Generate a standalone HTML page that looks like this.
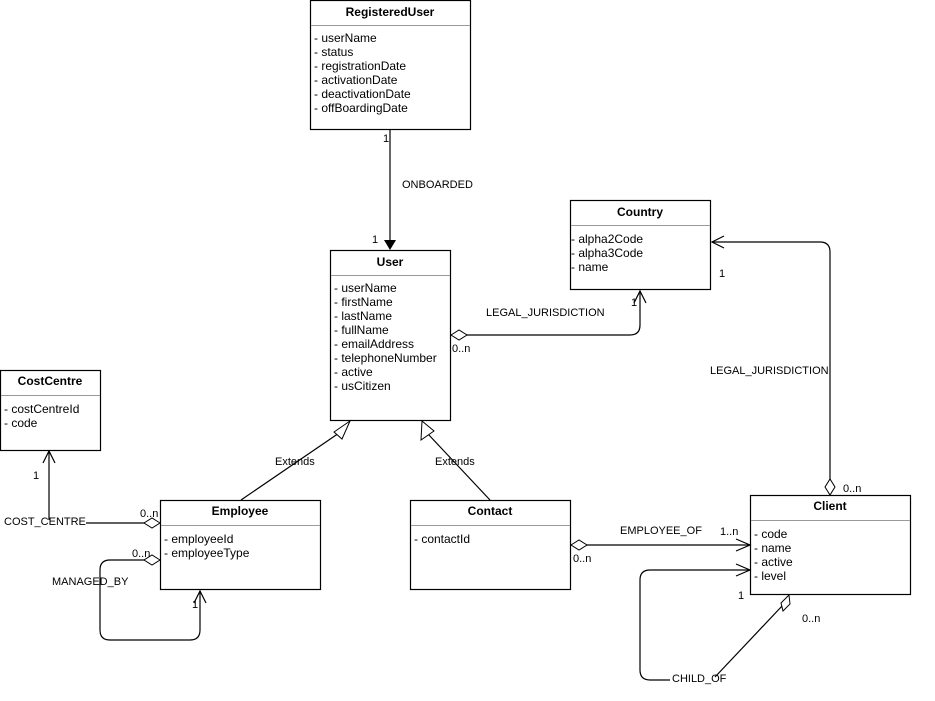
<!DOCTYPE html>
<html><head><meta charset="utf-8"><style>
html,body{margin:0;padding:0;background:#fff}
svg{display:block}
text{font-family:"Liberation Sans",Arial,sans-serif;font-size:12px;fill:#000}
.t{font-weight:bold;text-anchor:middle}
.s{font-size:11px}
</style></head><body>
<svg width="935" height="701" viewBox="0 0 935 701">
<g fill="#fff" stroke="#000" stroke-width="1.2">
<rect x="310.5" y="0.5" width="160" height="129"/>
<rect x="330.5" y="250.5" width="120" height="170"/>
<rect x="570.5" y="200.5" width="140" height="89"/>
<rect x="0.5" y="370.5" width="100" height="80"/>
<rect x="160.5" y="500.5" width="160" height="89"/>
<rect x="410.5" y="500.5" width="160" height="89"/>
<rect x="750.5" y="495.5" width="160" height="99"/>
</g>
<g stroke="#999" stroke-width="1">
<line x1="311" y1="25.5" x2="470" y2="25.5"/>
<line x1="331" y1="275.5" x2="450" y2="275.5"/>
<line x1="571" y1="225.5" x2="710" y2="225.5"/>
<line x1="1" y1="395.5" x2="100" y2="395.5"/>
<line x1="161" y1="525.5" x2="320" y2="525.5"/>
<line x1="411" y1="525.5" x2="570" y2="525.5"/>
<line x1="751" y1="520.5" x2="910" y2="520.5"/>
</g>
<text class="t" x="390" y="16">RegisteredUser</text>
<text x="314" y="42">- userName</text><text x="314" y="56">- status</text><text x="314" y="70">- registrationDate</text><text x="314" y="84">- activationDate</text><text x="314" y="98">- deactivationDate</text><text x="314" y="112">- offBoardingDate</text>
<text class="t" x="390" y="266">User</text>
<text x="334" y="292">- userName</text><text x="334" y="306">- firstName</text><text x="334" y="320">- lastName</text><text x="334" y="334">- fullName</text><text x="334" y="348">- emailAddress</text><text x="334" y="362">- telephoneNumber</text><text x="334" y="376">- active</text><text x="334" y="390">- usCitizen</text>
<text class="t" x="640" y="216">Country</text>
<text x="571" y="243">- alpha2Code</text><text x="571" y="257">- alpha3Code</text><text x="571" y="271">- name</text>
<text class="t" x="50" y="385">CostCentre</text>
<text x="4" y="413">- costCentreId</text><text x="4" y="427">- code</text>
<text class="t" x="240" y="515">Employee</text>
<text x="164" y="543">- employeeId</text><text x="164" y="557">- employeeType</text>
<text class="t" x="490" y="515">Contact</text>
<text x="414" y="543">- contactId</text>
<text class="t" x="830" y="510">Client</text>
<text x="754" y="538">- code</text><text x="754" y="552">- name</text><text x="754" y="566">- active</text><text x="754" y="580">- level</text>

<g fill="none" stroke="#000" stroke-width="1.2">
<line x1="390" y1="130" x2="390" y2="242"/>
<path d="M452,335 H630 Q640,335 640,325 V291"/>
<path d="M634,303 L640,291 L646,303"/>
<path d="M830,480 V252 Q830,242 820,242 H712"/>
<path d="M724,236 L712,242 L724,248"/>
<line x1="241" y1="500" x2="342" y2="431"/>
<line x1="490" y1="500" x2="428" y2="434"/>
<path d="M49,451 V520"/>
<path d="M43,463 L49,451 L55,463"/>
<path d="M86,523 H146"/>
<path d="M146,560 H110 Q100,560 100,570 V630 Q100,640 110,640 H190 Q200,640 200,630 V591"/>
<path d="M194,603 L200,591 L206,603"/>
<path d="M584,545 H750"/>
<path d="M736,539 L750,545 L736,551"/>
<path d="M750,570 H650 Q640,570 640,580 V670 Q640,680 650,680 H670"/>
<path d="M736,564 L750,570 L736,576"/>
<path d="M715,677 L783,605"/>
</g>
<g fill="#fff" stroke="#000" stroke-width="1">
<polygon points="350,421 334,432 342,439"/>
<polygon points="422,421 421,440 434,431"/>
<polygon points="451,335 459,330 467,335 459,340"/>
<polygon points="830,495 825,487 830,479 835,487"/>
<polygon points="160,523 152,518 144,523 152,528"/>
<polygon points="160,560 152,555 144,560 152,565"/>
<polygon points="571,545 579,540 587,545 579,550"/>
<polygon points="789,595 790,604 783,611 781,603"/>
</g>
<polygon points="384,240 390,250 396,240" fill="#000"/>
<g>
<text class="s" x="383" y="142">1</text>
<text class="s" x="402" y="188">ONBOARDED</text>
<text class="s" x="372" y="243">1</text>
<text class="s" x="486" y="316">LEGAL_JURISDICTION</text>
<text class="s" x="452" y="352">0..n</text>
<text class="s" x="631" y="306">1</text>
<text class="s" x="719" y="277">1</text>
<text class="s" x="710" y="374">LEGAL_JURISDICTION</text>
<text class="s" x="843" y="492">0..n</text>
<text class="s" x="275" y="465">Extends</text>
<text class="s" x="435" y="465">Extends</text>
<text class="s" x="33" y="479">1</text>
<text class="s" x="4" y="525">COST_CENTRE</text>
<text class="s" x="140" y="517">0..n</text>
<text class="s" x="132" y="557">0..n</text>
<text class="s" x="52" y="585">MANAGED_BY</text>
<text class="s" x="192" y="608">1</text>
<text class="s" x="620" y="534">EMPLOYEE_OF</text>
<text class="s" x="720" y="535">1..n</text>
<text class="s" x="573" y="562">0..n</text>
<text class="s" x="738" y="599">1</text>
<text class="s" x="802" y="622">0..n</text>
<text class="s" x="672" y="682">CHILD_OF</text>
</g>
</svg>
</body></html>
